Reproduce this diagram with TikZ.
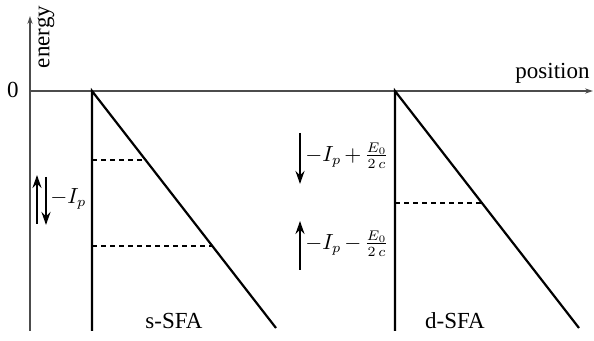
\documentclass[tikz,border=0pt]{standalone}
\usepackage{fontspec}
\setmainfont{Liberation Serif}
\usetikzlibrary{arrows.meta}
\begin{document}
\begin{tikzpicture}[x=0.5pt,y=-0.5pt,
  axis/.style={draw=black!70,line width=0.55pt,-{Stealth[length=4pt,width=2.6pt]}},
  wall/.style={line width=1.1pt,black},
  level/.style={line width=0.6pt,dash pattern=on 2.5pt off 2pt},
  spin/.style={line width=1.1pt,-{Stealth[length=6.5pt,width=4.5pt]}},
  lbl/.style={inner sep=0pt,font=\fontsize{11.5}{13}\selectfont},
  mlbl/.style={inner sep=0pt,font=\fontsize{10.5}{12}\selectfont,
    execute at begin node={\medmuskip=2.5mu\relax}}]
\useasboundingbox (0,0) rectangle (594,341);
% axes
\coordinate (O) at (30,91);
\coordinate (ybot) at (30,331);
\coordinate (ytop) at (30,16);
\coordinate (xend) at (593,91);
\draw[axis] (ybot) -- (ytop);
\draw[axis] (O) -- (xend);
\node[lbl,rotate=90] (energy) at (46,37) {energy};
\node[lbl,anchor=south east] (position) at (590,84) {position};
\node[lbl] (zero) at (13,90) {0};
% s-SFA
\coordinate (sA) at (92,91);
\coordinate (sB) at (92,331);
\coordinate (sC) at (276,328);
\draw[wall] (sB) -- (sA) -- (sC);
\coordinate (s1a) at (92,160);
\coordinate (s1b) at (146,160);
\coordinate (s2a) at (92,246);
\coordinate (s2b) at (213,246);
\draw[level] (s1a) -- (s1b);
\draw[level] (s2a) -- (s2b);
\node[lbl] (slabel) at (174,321) {s-SFA};
% d-SFA
\coordinate (dA) at (395,91);
\coordinate (dB) at (395,331);
\coordinate (dC) at (579,328);
\draw[wall] (dB) -- (dA) -- (dC);
\coordinate (d1a) at (395,203);
\coordinate (d1b) at (482,203);
\draw[level] (d1a) -- (d1b);
\node[lbl] (dlabel) at (455,321) {d-SFA};
% spins left
\coordinate (u1) at (37,224);
\coordinate (u2) at (37,175);
\coordinate (v1) at (46,177);
\coordinate (v2) at (46,225);
\draw[spin] (u1) -- (u2);
\draw[spin] (v1) -- (v2);
\node[mlbl,anchor=west] (ip) at (50,199) {$-I_p$};
% spins middle
\coordinate (m1) at (300,133);
\coordinate (m2) at (300,184);
\coordinate (n1) at (300,270);
\coordinate (n2) at (300,221);
\draw[spin] (m1) -- (m2);
\draw[spin] (n1) -- (n2);
\node[mlbl,anchor=west] (ipplus) at (305,156) {$-I_p+\frac{E_0}{2\,c}$};
\node[mlbl,anchor=west] (ipminus) at (305,244) {$-I_p-\frac{E_0}{2\,c}$};
\end{tikzpicture}
\end{document}
